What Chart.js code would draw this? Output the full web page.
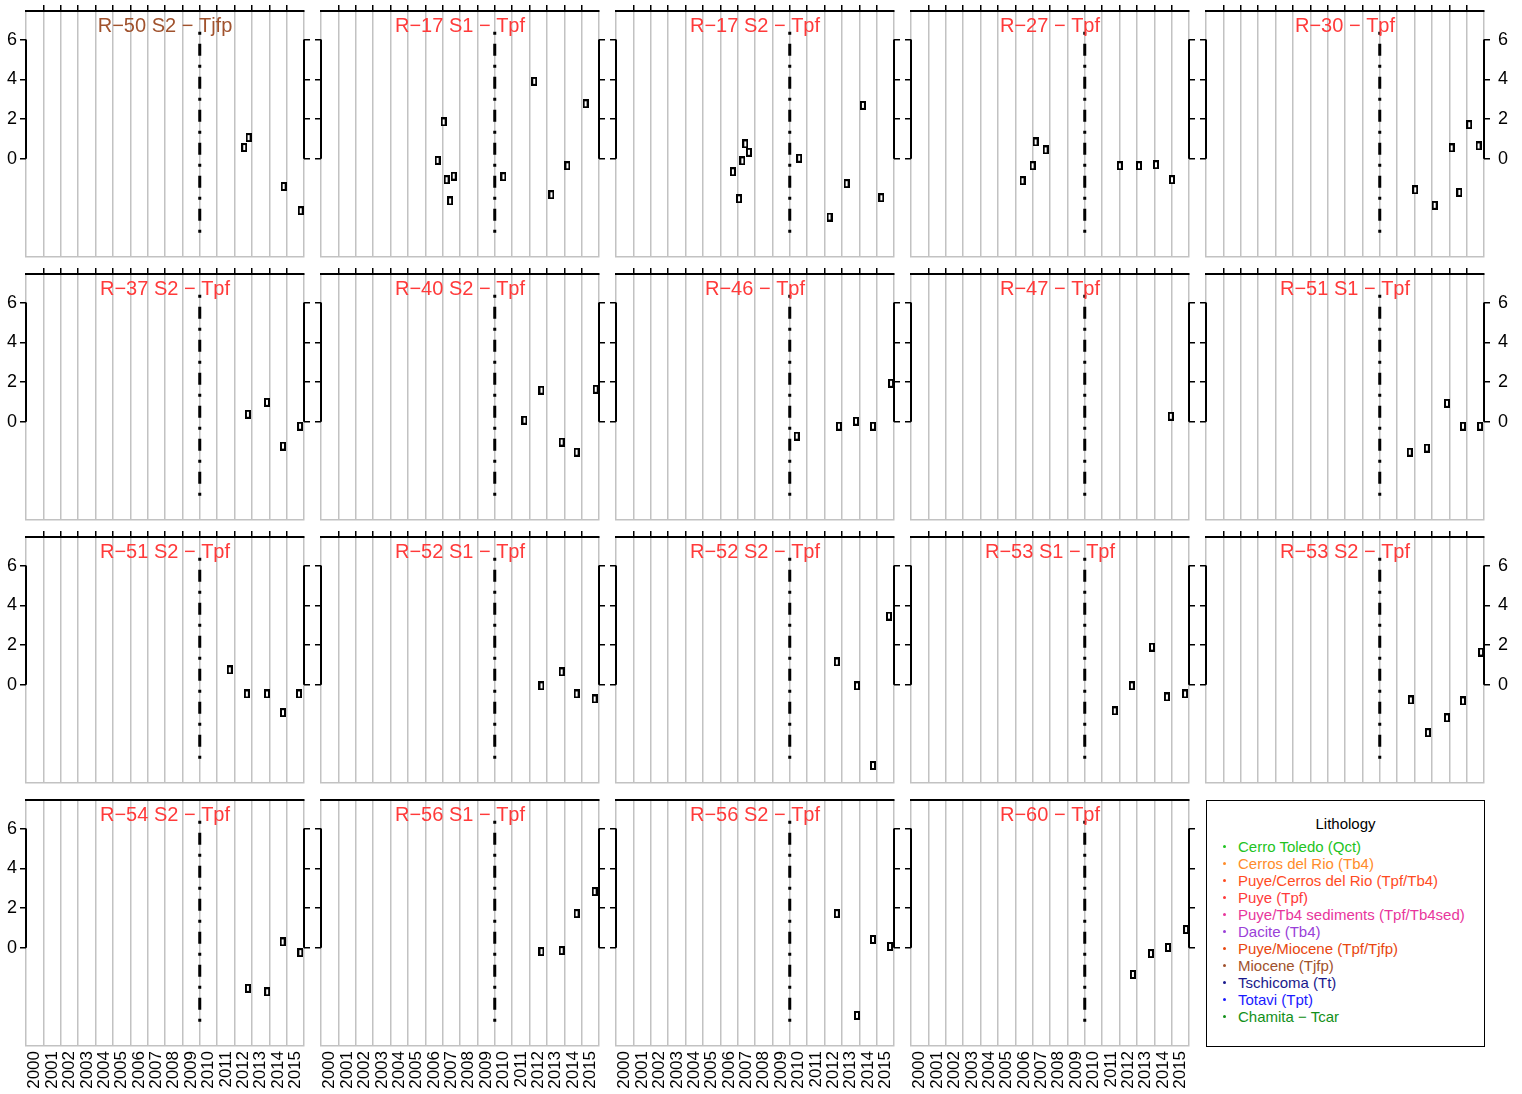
<!DOCTYPE html>
<html><head><meta charset="utf-8">
<script src="https://cdn.jsdelivr.net/npm/chart.js@4.4.1/dist/chart.umd.min.js"></script>
<style>
html,body{margin:0;padding:0;background:#fff;width:1522px;height:1094px;overflow:hidden;font-family:"Liberation Sans",Arial,sans-serif}
#wrap{position:relative;width:1522px;height:1094px}
#wrap canvas{position:absolute}
#legend{position:absolute;left:1206px;top:800px;width:279px;height:247px;box-sizing:border-box;border:1.5px solid #000;background:transparent}
#legend .ttl{position:absolute;left:0;width:100%;text-align:center;top:14px;line-height:18px;font-size:15px;color:#000}
#legend .it{position:absolute;left:31px;line-height:17px;font-size:15px;white-space:nowrap}
#legend .dot{position:absolute;left:16px;width:3px;height:3px;border-radius:50%}
</style></head><body><div id="wrap"><div id="legend"></div></div>
<script>
const FONT = '"Liberation Sans", Arial, sans-serif';
const yearTicks = [2000,2001,2002,2003,2004,2005,2006,2007,2008,2009,2010,2011,2012,2013,2014,2015];
const topTicks = [2001,2002,2003,2004,2005,2006,2007,2008,2009,2010,2011,2012,2013,2014,2015];
const yTicks = [0,2,4,6];
const refLineX = [2010, 2010];
const refLineY = [6.4, -4.0];

const panelTitles = ['R−50 S2 − Tjfp','R−17 S1 − Tpf','R−17 S2 − Tpf','R−27 − Tpf','R−30 − Tpf',
  'R−37 S2 − Tpf','R−40 S2 − Tpf','R−46 − Tpf','R−47 − Tpf','R−51 S1 − Tpf',
  'R−51 S2 − Tpf','R−52 S1 − Tpf','R−52 S2 − Tpf','R−53 S1 − Tpf','R−53 S2 − Tpf',
  'R−54 S2 − Tpf','R−56 S1 − Tpf','R−56 S2 − Tpf','R−60 − Tpf'];
const panelUnits = ['Tjfp','Tpf','Tpf','Tpf','Tpf','Tpf','Tpf','Tpf','Tpf','Tpf','Tpf','Tpf','Tpf','Tpf','Tpf','Tpf','Tpf','Tpf','Tpf'];

const p01x = [2012.56, 2012.81, 2014.83, 2015.81];
const p01y = [0.57, 1.07, -1.39, -2.61];
const p02x = [2006.71, 2007.06, 2007.23, 2007.43, 2007.64, 2010.50, 2012.27, 2013.26, 2014.18, 2015.23];
const p02y = [-0.08, 1.86, -1.05, -2.12, -0.87, -0.90, 3.90, -1.81, -0.35, 2.77];
const p03x = [2006.73, 2007.08, 2007.27, 2007.44, 2007.65, 2010.54, 2012.29, 2013.27, 2014.21, 2015.27];
const p03y = [-0.65, -2.01, -0.10, 0.75, 0.33, 0.03, -2.93, -1.25, 2.69, -1.96];
const p04x = [2006.42, 2007.00, 2007.17, 2007.75, 2012.02, 2013.12, 2014.10, 2015.02];
const p04y = [-1.10, -0.35, 0.85, 0.45, -0.35, -0.35, -0.30, -1.05];
const p05x = [2012.04, 2013.16, 2014.14, 2014.58, 2015.15, 2015.69];
const p05y = [-1.56, -2.34, 0.55, -1.69, 1.72, 0.65];
const p06x = [2012.77, 2013.87, 2014.79, 2015.77];
const p06y = [0.38, 0.98, -1.22, -0.22];
const p07x = [2011.71, 2012.69, 2013.85, 2014.71, 2015.81];
const p07y = [0.08, 1.59, -1.02, -1.53, 1.64];
const p08x = [2010.40, 2012.83, 2013.81, 2014.79, 2015.83];
const p08y = [-0.72, -0.22, 0.03, -0.22, 1.94];
const p09x = [2014.95];
const p09y = [0.28];
const p10x = [2011.73, 2012.71, 2013.87, 2014.79, 2015.77];
const p10y = [-1.53, -1.32, 0.93, -0.22, -0.22];
const p11x = [2011.73, 2012.71, 2013.87, 2014.79, 2015.71];
const p11y = [0.75, -0.46, -0.46, -1.40, -0.46];
const p12x = [2012.69, 2013.85, 2014.71, 2015.75];
const p12y = [-0.05, 0.65, -0.46, -0.71];
const p13x = [2012.71, 2013.87, 2014.79, 2015.71];
const p13y = [1.15, -0.05, -4.06, 3.46];
const p14x = [2011.73, 2012.71, 2013.87, 2014.73, 2015.77];
const p14y = [-1.31, -0.05, 1.90, -0.61, -0.46];
const p15x = [2011.79, 2012.77, 2013.87, 2014.79, 2015.83];
const p15y = [-0.76, -2.41, -1.66, -0.81, 1.65];
const p16x = [2012.77, 2013.88, 2014.77, 2015.79];
const p16y = [-2.04, -2.21, 0.30, -0.24];
const p17x = [2012.69, 2013.85, 2014.71, 2015.75];
const p17y = [-0.19, -0.14, 1.72, 2.83];
const p18x = [2012.71, 2013.87, 2014.79, 2015.77];
const p18y = [1.72, -3.40, 0.42, 0.07];
const p19x = [2012.77, 2013.81, 2014.79, 2015.83];
const p19y = [-1.34, -0.29, 0.02, 0.92];

const legendLabels = ['Cerro Toledo (Qct)','Cerros del Rio (Tb4)','Puye/Cerros del Rio (Tpf/Tb4)','Puye (Tpf)',
  'Puye/Tb4 sediments (Tpf/Tb4sed)','Dacite (Tb4)','Puye/Miocene (Tpf/Tjfp)','Miocene (Tjfp)',
  'Tschicoma (Tt)','Totavi (Tpt)','Chamita − Tcar'];
const legendColors = ['#22C322','#FF8C2A','#FF4B1F','#FF3A3A','#E8369C','#9A3FD8','#E8470F','#A0522D',
  '#1A1A8C','#1A1AFF','#139019'];
const unitColors = {Tpf:'#FF3A3A', Tjfp:'#A0522D'};

const panelXs = [p01x,p02x,p03x,p04x,p05x,p06x,p07x,p08x,p09x,p10x,p11x,p12x,p13x,p14x,p15x,p16x,p17x,p18x,p19x];
const panelYs = [p01y,p02y,p03y,p04y,p05y,p06y,p07y,p08y,p09y,p10y,p11y,p12y,p13y,p14y,p15y,p16y,p17y,p18y,p19y];

// marker image: small open rectangle
const markerImg = document.createElement('canvas');
markerImg.width = 6; markerImg.height = 9;
(function(){ const m = markerImg.getContext('2d'); m.fillStyle='#fff'; m.fillRect(0,0,6,9);
  m.strokeStyle='#000'; m.lineWidth=2; m.strokeRect(1,1,4,7); })();

const panelDecor = {
  id: 'panelDecor',
  afterDraw(chart, args, opts) {
    const {ctx, chartArea: a, scales} = chart;
    const y = scales.y;
    const y0 = y.getPixelForValue(0), y6 = y.getPixelForValue(6);
    ctx.save();
    ctx.strokeStyle = '#000'; ctx.lineWidth = 2;
    ctx.beginPath();
    ctx.moveTo(a.left, y6); ctx.lineTo(a.left, y0);
    ctx.moveTo(a.right, y6); ctx.lineTo(a.right, y0);
    ctx.stroke();
    ctx.font = '20px ' + FONT;
    ctx.fillStyle = opts.color; ctx.textAlign = 'center'; ctx.textBaseline = 'alphabetic';
    ctx.fillText(opts.title, (a.left + a.right) / 2, a.top + 21);
    ctx.restore();
  }
};

const noPad = s => { s.paddingTop = 0; s.paddingBottom = 0; s.paddingLeft = 0; s.paddingRight = 0; };

const wrap = document.getElementById('wrap');
const W = 278, H = 246, PL = 26, PR = 40, PT = 11;

panelTitles.forEach((title, i) => {
  const r = Math.floor(i / 5), c = i % 5;
  const L = 26 + 295 * c, T = 11 + 263 * r;
  const PB = r === 3 ? 48 : 14;
  const cv = document.createElement('canvas');
  cv.width = PL + W + PR; cv.height = PT + H + PB;
  cv.style.left = (L - PL) + 'px'; cv.style.top = (T - PT) + 'px';
  cv.style.width = cv.width + 'px'; cv.style.height = cv.height + 'px';
  wrap.appendChild(cv);
  const xs = panelXs[i], ys = panelYs[i];
  new Chart(cv, {
    type: 'scatter',
    data: { datasets: [
      { data: xs.map((x, k) => ({x, y: ys[k]})), pointStyle: markerImg, pointRadius: 4, pointHoverRadius: 4,
        backgroundColor: '#fff', borderColor: '#000', xAxisID: 'x', yAxisID: 'y' },
      { data: refLineX.map((x, k) => ({x, y: refLineY[k]})), showLine: true, pointRadius: 0, borderColor: '#000',
        borderWidth: 3, borderDash: [3, 9, 12, 9], borderCapStyle: 'butt', xAxisID: 'x', yAxisID: 'y' }
    ]},
    options: {
      responsive: false, animation: false, devicePixelRatio: 1, events: [],
      layout: { padding: 0 },
      plugins: { legend: { display: false }, tooltip: { enabled: false },
        panelDecor: { title, color: unitColors[panelUnits[i]] } },
      scales: {
        x: { type: 'linear', position: 'bottom', min: 2000, max: 2016,
          afterBuildTicks: s => { s.ticks = yearTicks.map(v => ({value: v + 0.5})); },
          ticks: { display: r === 3, autoSkip: false, minRotation: 90, maxRotation: 90, padding: 5, color: '#000',
            font: { size: 17, family: FONT }, callback: v => String(Math.floor(v)) },
          grid: { offset: true, color: '#C2C2C2', lineWidth: 1.5, drawTicks: false },
          border: { display: true, color: '#C2C2C2', width: 1.5 },
          afterFit: s => { s.height = PB; noPad(s); } },
        xt: { type: 'linear', position: 'top', min: 2000, max: 2016,
          afterBuildTicks: s => { s.ticks = topTicks.map(v => ({value: v})); },
          ticks: { display: false },
          grid: { display: r < 3, drawOnChartArea: false, drawTicks: true, tickLength: 6, color: '#000', lineWidth: 1.5 },
          border: { display: true, color: '#000', width: 2 },
          afterFit: s => { s.height = PT; noPad(s); } },
        y: { type: 'linear', position: 'left', min: -4.94, max: 7.44,
          afterBuildTicks: s => { s.ticks = yTicks.map(v => ({value: v})); },
          ticks: { display: c === 0, color: '#000', padding: 3, font: { size: 18, family: FONT } },
          grid: { drawOnChartArea: false, drawTicks: true, tickLength: 6, color: '#000', lineWidth: 1.5 },
          border: { display: false },
          afterFit: s => { s.width = PL; noPad(s); } },
        y2: { type: 'linear', position: 'right', min: -4.94, max: 7.44,
          afterBuildTicks: s => { s.ticks = yTicks.map(v => ({value: v})); },
          ticks: { display: c === 4, color: '#000', padding: 8, font: { size: 18, family: FONT } },
          grid: { drawOnChartArea: false, drawTicks: true, tickLength: 6, color: '#000', lineWidth: 1.5 },
          border: { display: false },
          afterFit: s => { s.width = PR; noPad(s); } }
      }
    },
    plugins: [panelDecor]
  });
});

// legend box
const lg = document.getElementById('legend');
const ttl = document.createElement('div'); ttl.className = 'ttl'; ttl.textContent = 'Lithology'; lg.appendChild(ttl);
legendLabels.forEach((lab, k) => {
  const top = 37.3 + 16.94 * k;
  const d = document.createElement('div'); d.className = 'dot';
  d.style.top = (top + 7) + 'px'; d.style.background = legendColors[k]; lg.appendChild(d);
  const t = document.createElement('div'); t.className = 'it';
  t.style.top = top + 'px'; t.style.color = legendColors[k]; t.textContent = lab; lg.appendChild(t);
});
</script>
</body></html>
